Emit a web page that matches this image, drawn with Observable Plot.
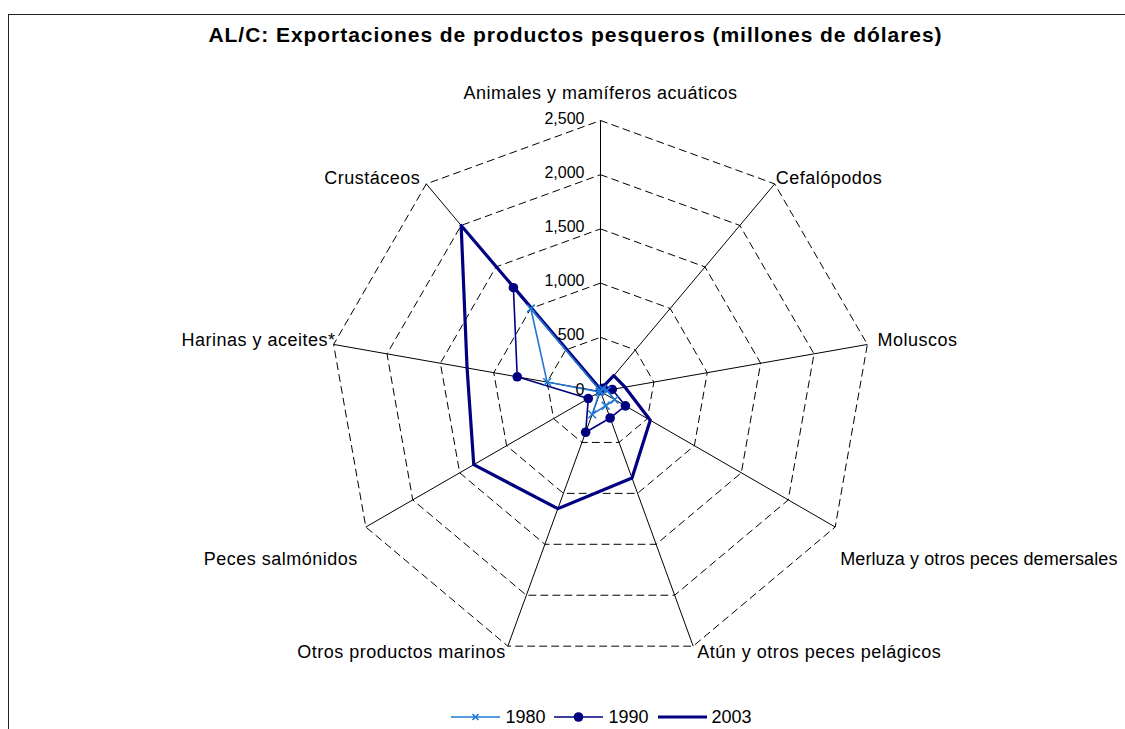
<!DOCTYPE html>
<html><head><meta charset="utf-8">
<script src="https://cdn.jsdelivr.net/npm/d3@7"></script>
<script src="https://cdn.jsdelivr.net/npm/@observablehq/plot@0.6"></script>
<style>
body{margin:0;background:#fff;font-family:"Liberation Sans",Arial,sans-serif;}
#wrap{position:relative;width:1125px;height:729px;overflow:hidden;background:#fff;}
#frame{position:absolute;left:8px;top:14px;width:1300px;height:900px;border:1.5px solid #222;box-sizing:border-box;}
#title{position:absolute;left:0;width:1125px;box-sizing:border-box;padding-left:26px;top:23px;text-align:center;font-weight:bold;font-size:21px;letter-spacing:0.95px;line-height:24px;color:#000;}
#chart{position:absolute;left:0;top:56px;}
#legend{position:absolute;left:0;top:707px;width:1125px;box-sizing:border-box;padding-left:78px;display:flex;justify-content:center;align-items:center;font-size:18px;line-height:20px;color:#000;}
#legend .item{display:flex;align-items:center;margin:0 4.5px;}
#legend svg{margin-right:5px;}
</style>
</head><body>
<div id="wrap">
<div id="frame"></div>
<div id="title">AL/C: Exportaciones de productos pesqueros (millones de dólares)</div>
<div id="chart"></div>
<div id="legend"></div>
</div>
<script>
// ---- data ----
const categories = [
  "Animales y mamíferos acuáticos",
  "Cefalópodos",
  "Moluscos",
  "Merluza y otros peces demersales",
  "Atún y otros peces pelágicos",
  "Otros productos marinos",
  "Peces salmónidos",
  "Harinas y aceites*",
  "Crustáceos"
];
const years = ["1980", "1990", "2003"];
const v1980 = [5, 30, 60, 150, 140, 225, 10, 500, 1000];
const v1990 = [10, 40, 110, 265, 260, 400, 130, 780, 1250];
const v2003 = [20, 190, 230, 530, 850, 1150, 1350, 1250, 2000];
const tickValues = [0, 500, 1000, 1500, 2000, 2500];
const tickLabels = ["0", "500", "1,000", "1,500", "2,000", "2,500"];

// ---- layout / style ----
const W = 1125, H = 640;
const CX = 600, CY = 335;      // centre in px
const RPX = 271;               // px radius of the max ring
const MAX = 2500;
const k = MAX / RPX;           // data units per px
const colors = {"1980": "#1f78d4", "1990": "#000080", "2003": "#000080"};
// label nudges per category [anchor, dx, dy, letterSpacing]
const labelNudge = [
  ["middle", 0, -27, 0.5], ["start", 1, -6, 0.5], ["start", 10, -4, 0.5],
  ["start", 5, 32, 0.1], ["start", 4, 6, 0.5], ["end", -2, 6, 0.5],
  ["end", -8, 32, 0.5], ["end", 2, -4, 0.5], ["end", -6, -6, 0.5]
];

const n = categories.length;
const ang = i => i * 2 * Math.PI / n;
const pt = (i, v) => ({x: v * Math.sin(ang(i)), y: v * Math.cos(ang(i))});

const series = {"1980": v1980, "1990": v1990, "2003": v2003};
const seriesRows = years.flatMap(yr => series[yr].map((v, i) => ({year: yr, cat: categories[i], value: v, ...pt(i, v)})));
const gridRows = tickValues.filter(t => t > 0).flatMap(t => categories.map((c, i) => ({level: t, ...pt(i, t)})));
const spokes = categories.map((c, i) => ({cat: c, ...pt(i, MAX)}));
const ticks = tickValues.map((t, j) => ({label: tickLabels[j], x: 0, y: t}));
const labels = categories.map((c, i) => ({cat: c, i, ...pt(i, MAX)}));

const font = '"Liberation Sans", Arial, sans-serif';

const chart = Plot.plot({
  width: W, height: H,
  margin: 0,
  style: {background: "transparent", fontFamily: font, overflow: "visible"},
  x: {axis: null, domain: [-CX * k, (W - CX) * k], range: [0, W]},
  y: {axis: null, domain: [CY * k, (CY - H) * k], range: [0, H]},
  marks: [
    Plot.line(gridRows, {x: "x", y: "y", z: "level", curve: "linear-closed", stroke: "#000", strokeWidth: 1, strokeDasharray: "7,5"}),
    Plot.link(spokes, {x1: 0, y1: 0, x2: "x", y2: "y", stroke: "#000", strokeWidth: 1}),
    Plot.line(seriesRows.filter(d => d.year === "2003"), {x: "x", y: "y", curve: "linear-closed", stroke: colors["2003"], strokeWidth: 3.2}),
    Plot.line(seriesRows.filter(d => d.year === "1990"), {x: "x", y: "y", curve: "linear-closed", stroke: colors["1990"], strokeWidth: 1.6}),
    Plot.dot(seriesRows.filter(d => d.year === "1990"), {x: "x", y: "y", r: 4.8, fill: colors["1990"], stroke: "none"}),
    Plot.line(seriesRows.filter(d => d.year === "1980"), {x: "x", y: "y", curve: "linear-closed", stroke: colors["1980"], strokeWidth: 1.6}),
    Plot.dot(seriesRows.filter(d => d.year === "1980"), {x: "x", y: "y", r: 3.6, symbol: "times", stroke: colors["1980"], strokeWidth: 1.6}),
    Plot.text(ticks, {x: "x", y: "y", text: "label", textAnchor: "end", dx: -16, dy: -2, fontSize: 16, fill: "#000"}),
    ...labels.map(d => Plot.text([d], {x: "x", y: "y", text: "cat", textAnchor: labelNudge[d.i][0], dx: labelNudge[d.i][1], dy: labelNudge[d.i][2], fontSize: 18, fill: "#000"}))
  ]
});
chart.querySelectorAll("text").forEach(t => {
  const idx = categories.indexOf(t.textContent);
  if (idx >= 0) t.setAttribute("letter-spacing", labelNudge[idx][3]);
});
document.getElementById("chart").appendChild(chart);

// legend
const legend = document.getElementById("legend");
years.forEach(yr => {
  const item = document.createElement("div");
  item.className = "item";
  let marker = "";
  if (yr === "1980") marker = `<path d="M21.5,3 L27.5,9 M27.5,3 L21.5,9" stroke="${colors[yr]}" stroke-width="1.6"/>`;
  if (yr === "1990") marker = `<circle cx="24.5" cy="6" r="4.8" fill="${colors[yr]}"/>`;
  const sw = yr === "2003" ? 3.2 : 1.6;
  item.innerHTML = `<svg width="49" height="12"><line x1="0" y1="6" x2="49" y2="6" stroke="${colors[yr]}" stroke-width="${sw}"/>${marker}</svg><span>${yr}</span>`;
  legend.appendChild(item);
});
</script>
</body></html>
